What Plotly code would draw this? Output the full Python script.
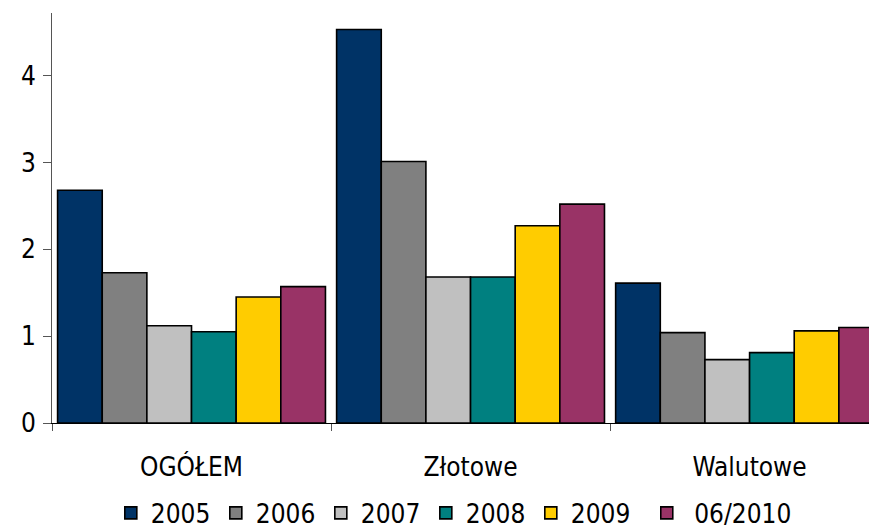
import plotly.graph_objects as go

categories = ["OGÓŁEM", "Złotowe", "Walutowe"]
series_names = ["2005", "2006", "2007", "2008", "2009", " 06/2010"]
values_2005 = [2.68, 4.53, 1.61]
values_2006 = [1.73, 3.01, 1.04]
values_2007 = [1.12, 1.68, 0.73]
values_2008 = [1.05, 1.68, 0.81]
values_2009 = [1.45, 2.27, 1.06]
values_2010_06 = [1.57, 2.52, 1.10]
series_colors = ["#003366", "#808080", "#C0C0C0", "#008080", "#FFCC00", "#993366"]

all_values = [values_2005, values_2006, values_2007, values_2008, values_2009, values_2010_06]
# the last (longer) entry sits in its own legend so its label is not clipped
legend_ids = ["legend", "legend", "legend", "legend", "legend", "legend2"]

FONT = "DejaVu Sans Condensed, DejaVu Sans, sans-serif"
FONT_SIZE = 26

fig = go.Figure()
for name, vals, color, lg in zip(series_names, all_values, series_colors, legend_ids):
    fig.add_trace(go.Bar(
        x=categories,
        y=vals,
        name=name,
        legend=lg,
        marker=dict(color=color, line=dict(color="black", width=1.6)),
    ))

legend_common = dict(
    orientation="h",
    xanchor="left",
    y=-0.2195,
    yanchor="middle",
    itemwidth=30,
    bgcolor="rgba(0,0,0,0)",
    font=dict(family=FONT, size=FONT_SIZE, color="black"),
    traceorder="normal",
)

fig.update_layout(
    width=869,
    height=528,
    barmode="group",
    bargap=0.04,
    bargroupgap=0,
    plot_bgcolor="white",
    paper_bgcolor="white",
    margin=dict(l=52, r=0, t=13, b=105, autoexpand=False),
    font=dict(family=FONT, size=FONT_SIZE, color="black"),
    showlegend=True,
    legend=dict(x=0.072, entrywidth=60, entrywidthmode="pixels", **legend_common),
    legend2=dict(x=0.728, **legend_common),
    xaxis=dict(
        type="category",
        range=[-0.5, 2.428],
        showline=True,
        linecolor="black",
        linewidth=1,
        ticks="outside",
        tickson="boundaries",
        ticklen=7,
        tickcolor="#555555",
        ticklabelstandoff=21,
        showgrid=False,
        zeroline=False,
    ),
    yaxis=dict(
        range=[0, 4.72],
        tickvals=[0, 1, 2, 3, 4],
        showline=True,
        linecolor="#555555",
        linewidth=1,
        ticks="outside",
        ticklen=8,
        tickcolor="#555555",
        ticklabelstandoff=2,
        showgrid=False,
        zeroline=False,
    ),
)

fig.write_html("out.html")
